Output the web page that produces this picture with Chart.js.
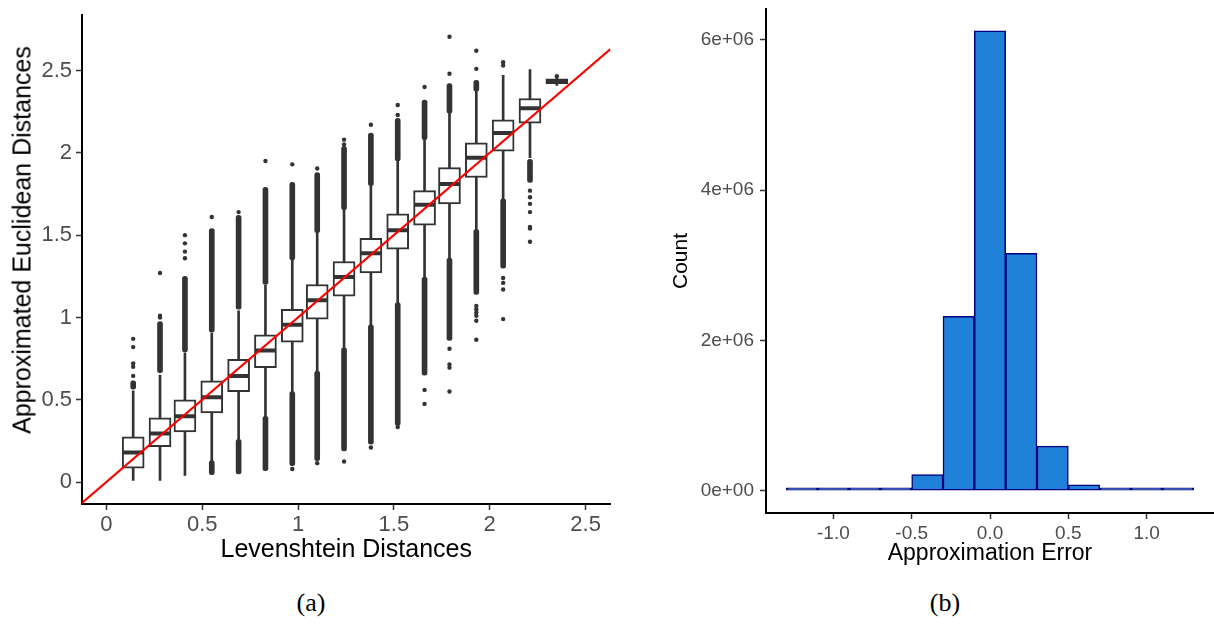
<!DOCTYPE html>
<html>
<head>
<meta charset="utf-8">
<script src="https://cdn.jsdelivr.net/npm/chart.js@4.4.1/dist/chart.umd.min.js"></script>
<style>
  body { margin: 0; background: #fff; width: 1214px; height: 625px; position: relative; overflow: hidden; }
  .panel { position: absolute; top: 0; height: 575px; }
  #boxWrap { left: 0; width: 625px; }
  #histWrap { left: 640px; width: 574px; }
  .caption { position: absolute; top: 588px; font: 26px 'Liberation Serif', 'DejaVu Serif', serif; transform: translateX(-50%); color: #000; }
  .ytitle { position: absolute; left: 22px; top: 240px; white-space: nowrap; color: #000;
            font: 25px 'Liberation Sans', Arial, sans-serif; transform: translate(-50%, -50%) rotate(-90deg); }
</style>
</head>
<body>
<div class="panel" id="boxWrap"><canvas id="boxChart"></canvas></div>
<div class="panel" id="histWrap"><canvas id="histChart"></canvas></div>
<div class="ytitle">Approximated Euclidean Distances</div>
<div class="caption" style="left:311px">(a)</div>
<div class="caption" style="left:945px">(b)</div>
<script>
// ---- (a) boxplots of approximated euclidean vs levenshtein distance ----
const levDist   = [0.14, 0.28, 0.41, 0.55, 0.69, 0.83, 0.97, 1.10, 1.24, 1.38, 1.52, 1.66, 1.79, 1.93, 2.07, 2.21, 2.35];
const whiskLow  = [0.01, 0.01, 0.04, 0.13, 0.26, 0.395, 0.55, 0.675, 0.815, 0.955, 1.09, 1.245, 1.36, 1.535, 1.72, 1.97, 2.41];
const q1        = [0.085, 0.215, 0.305, 0.42, 0.55, 0.695, 0.85, 0.99, 1.13, 1.27, 1.415, 1.56, 1.69, 1.85, 2.01, 2.18, 2.42];
const medians   = [0.18, 0.295, 0.40, 0.515, 0.645, 0.80, 0.955, 1.105, 1.245, 1.39, 1.53, 1.685, 1.81, 1.97, 2.12, 2.27, 2.435];
const q3        = [0.275, 0.39, 0.50, 0.615, 0.745, 0.895, 1.05, 1.20, 1.34, 1.48, 1.63, 1.77, 1.91, 2.06, 2.20, 2.33, 2.45];
const whiskHigh = [0.555, 0.65, 0.785, 0.905, 1.04, 1.195, 1.35, 1.515, 1.655, 1.80, 1.95, 2.08, 2.24, 2.375, 2.47, 2.505, 2.455];

// stretches where outliers are so dense they merge into a bar
const runX    = [0.14, 0.28, 0.41, 0.55, 0.55, 0.69, 0.69, 0.83, 0.83, 0.97, 0.97, 1.10, 1.10, 1.24, 1.24, 1.38, 1.38, 1.52, 1.52, 1.66, 1.66, 1.79, 1.79, 1.93, 1.93, 2.07, 2.21];
const runLow  = [0.565, 0.665, 0.79, 0.045, 0.91, 0.05, 1.05, 0.07, 1.20, 0.10, 1.35, 0.13, 1.515, 0.19, 1.655, 0.23, 1.80, 0.345, 1.95, 0.65, 2.08, 0.86, 2.24, 1.14, 2.375, 1.30, 1.82];
const runHigh = [0.615, 0.975, 1.25, 0.13, 1.54, 0.26, 1.62, 0.40, 1.79, 0.55, 1.82, 0.675, 1.88, 0.815, 2.04, 0.955, 2.12, 1.09, 2.21, 1.245, 2.32, 1.36, 2.42, 1.535, 2.44, 1.72, 1.96];

// isolated outliers
const outlierX = [0.14, 0.14, 0.14, 0.14, 0.14, 0.28, 0.28, 0.28, 0.41, 0.41, 0.41, 0.41, 0.55, 0.69, 0.83, 0.97, 0.97,
                  1.10, 1.10, 1.24, 1.24, 1.24, 1.38, 1.38, 1.52, 1.52, 1.52, 1.66, 1.66, 1.66,
                  1.79, 1.79, 1.79, 1.79, 1.79, 1.79, 1.93, 1.93, 1.93, 1.93, 1.93, 1.93, 1.93, 1.93,
                  2.07, 2.07, 2.07, 2.07, 2.07, 2.07, 2.21, 2.21, 2.21, 2.21, 2.21, 2.21, 2.21, 2.35];
const outlierY = [0.645, 0.70, 0.72, 0.82, 0.87, 1.0, 1.01, 1.27, 1.36, 1.40, 1.45, 1.50, 1.61, 1.64, 1.95, 0.08, 1.93,
                  0.115, 1.905, 0.125, 2.05, 2.08, 0.21, 2.17, 0.335, 2.23, 2.29, 0.475, 0.56, 2.40,
                  0.55, 0.695, 0.715, 0.81, 2.48, 2.705, 0.865, 0.98, 1.01, 1.03, 1.05, 1.07, 2.51, 2.62,
                  0.99, 1.17, 1.21, 1.24, 2.53, 2.55, 1.46, 1.54, 1.55, 1.64, 1.69, 1.73, 1.77, 2.465];

// identity reference line, across the full x range
const refLine = [-0.127, 2.63];

const levTicks = [0, 0.5, 1, 1.5, 2, 2.5];
const levTickLabels = ['0', '0.5', '1', '1.5', '2', '2.5'];
const eucTicks = [0, 0.5, 1, 1.5, 2, 2.5];
const eucTickLabels = ['0', '0.5', '1', '1.5', '2', '2.5'];

// ---- (b) histogram of approximation error ----
const binCenters = [-1.2, -1.0, -0.8, -0.6, -0.4, -0.2, 0.0, 0.2, 0.4, 0.6, 0.8, 1.0, 1.2];
const binCounts  = [300, 900, 3000, 20000, 215000, 2320000, 6120000, 3160000, 593000, 78000, 12000, 2000, 400];
const errTicks = [-1, -0.5, 0, 0.5, 1];
const errTickLabels = ['-1.0', '-0.5', '0.0', '0.5', '1.0'];
const countTicks = [0, 2e6, 4e6, 6e6];
const countTickLabels = ['0e+00', '2e+06', '4e+06', '6e+06'];

const FONT = "'Liberation Sans', Arial, sans-serif";
Chart.defaults.font.family = FONT;
const DARK = '#333333';

function axisStyle(tickVals, tickLabels, size, fit) {
  return {
    type: 'linear',
    offset: false,
    afterBuildTicks: s => { s.ticks = tickVals.map(v => ({ value: v })); },
    // fixed axis box; drop the room chart.js keeps for half a label at the ends
    afterFit: s => { fit(s); s.paddingTop = 0; s.paddingBottom = 0; },
    ticks: { callback: (v, i) => tickLabels[i], color: '#4d4d4d', font: { size }, autoSkip: false, maxRotation: 0 },
    grid: { display: true, offset: false, drawOnChartArea: false, drawTicks: true, tickLength: 6, tickColor: DARK, tickWidth: 1.5 },
    border: { display: true, color: '#000', width: 2 }
  };
}

const boxX = axisStyle(levTicks, levTickLabels, 22, s => { s.height = 71; });
boxX.min = refLine[0];
boxX.max = refLine[1];
boxX.ticks.padding = 2;
boxX.title = { display: true, text: 'Levenshtein Distances', color: '#000', font: { size: 25 }, padding: { top: 0, bottom: 10 } };

const boxY = axisStyle(eucTicks, eucTickLabels, 22, s => { s.width = 82; });
boxY.min = -0.133;
boxY.max = 2.84;
boxY.ticks.padding = 4;

new Chart(document.getElementById('boxChart'), {
  type: 'bar',
  data: {
    datasets: [
      {
        type: 'line',
        data: refLine.map(v => ({ x: v, y: v })),
        borderColor: '#ff0000', borderWidth: 2.2, pointRadius: 0, order: 0
      },
      {
        type: 'scatter',
        data: levDist.map((x, i) => ({ x, y: medians[i] })),
        pointStyle: 'line', pointRadius: 10.5, pointBorderWidth: 4, pointBorderColor: DARK, order: 2
      },
      {
        type: 'bar',
        data: levDist.map((x, i) => ({ x, y: [q1[i], q3[i]] })),
        barThickness: 22, grouped: false, backgroundColor: '#ffffff',
        borderColor: DARK, borderWidth: 2, borderSkipped: false, order: 3
      },
      {
        type: 'scatter',
        data: outlierX.map((x, i) => ({ x, y: outlierY[i] })),
        pointRadius: 2.2, pointBackgroundColor: DARK, pointBorderWidth: 0, order: 4
      },
      {
        type: 'bar',
        data: runX.map((x, i) => ({ x, y: [runLow[i], runHigh[i]] })),
        barThickness: 5, grouped: false, backgroundColor: DARK,
        borderRadius: 2.5, borderSkipped: false, order: 5
      },
      {
        type: 'bar',
        data: levDist.map((x, i) => ({ x, y: [whiskLow[i], whiskHigh[i]] })),
        barThickness: 2, grouped: false, backgroundColor: DARK, order: 6
      }
    ]
  },
  options: {
    responsive: true, maintainAspectRatio: false, animation: false, events: [],
    layout: { padding: { left: 0, top: 11, right: 12, bottom: 0 } },
    plugins: { legend: { display: false }, tooltip: { enabled: false } },
    scales: { x: boxX, y: boxY }
  }
});

const histX = axisStyle(errTicks, errTickLabels, 19, s => { s.height = 62; });
histX.min = -1.43;
histX.max = 1.43;
histX.ticks.padding = 3;
histX.title = { display: true, text: 'Approximation Error', color: '#000', font: { size: 23 }, padding: { top: 0, bottom: 8 } };

const histY = axisStyle(countTicks, countTickLabels, 19, s => { s.width = 126; });
histY.min = -296000;
histY.max = 6410000;
histY.ticks.padding = 6;
histY.title = { display: true, text: 'Count', color: '#000', font: { size: 21 }, padding: { top: 29, bottom: 0 } };

new Chart(document.getElementById('histChart'), {
  type: 'bar',
  data: {
    datasets: [{
      data: binCenters.map((x, i) => ({ x, y: binCounts[i] })),
      backgroundColor: '#1f82d8', borderColor: '#000080', borderWidth: 1.5,
      // near-empty bins still show as an outline along zero
      borderSkipped: false, barPercentage: 1, categoryPercentage: 1, minBarLength: 3
    }]
  },
  options: {
    responsive: true, maintainAspectRatio: false, animation: false, events: [],
    layout: { padding: { left: 0, top: 9, right: 0, bottom: 0 } },
    plugins: { legend: { display: false }, tooltip: { enabled: false } },
    scales: { x: histX, y: histY }
  }
});
</script>
</body>
</html>
